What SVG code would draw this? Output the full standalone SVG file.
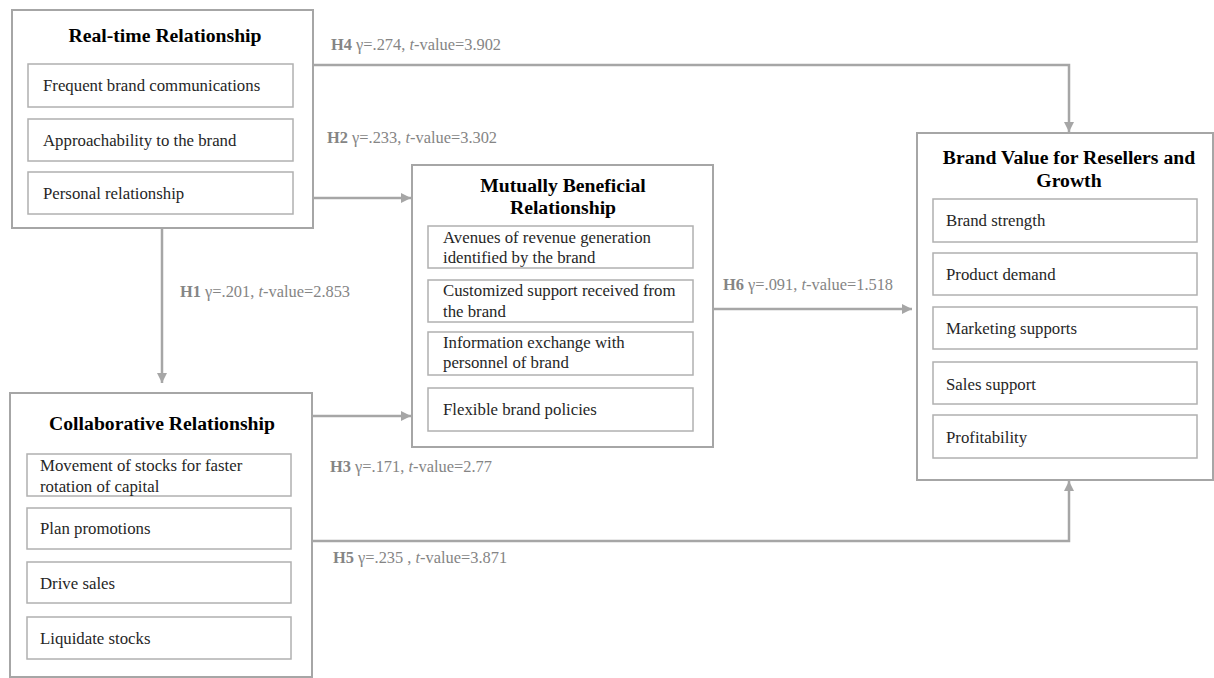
<svg xmlns="http://www.w3.org/2000/svg" width="1214" height="678" viewBox="0 0 1214 678">
<defs>
<marker id="ah" viewBox="0 0 10 10" refX="10" refY="5" markerWidth="10" markerHeight="10" markerUnits="userSpaceOnUse" orient="auto">
<path d="M0,0 L10,5 L0,10 Z" fill="#a6a6a6"/>
</marker>
</defs>
<style>
.outer{fill:#fff;stroke:#a6a6a6;stroke-width:2}
.inner{fill:#fff;stroke:#b0b0b0;stroke-width:1.5}
.title{font-family:"Liberation Serif","Times New Roman",serif;font-weight:bold;font-size:19.7px;fill:#000;text-anchor:middle}
.item{font-family:"Liberation Serif","Times New Roman",serif;font-size:16.8px;fill:#262626}
.lbl{font-family:"Liberation Serif","Times New Roman",serif;font-size:16.4px;fill:#858585}
.lbl .b{font-weight:bold}
.lbl .i{font-style:italic}
.conn{fill:none;stroke:#a6a6a6;stroke-width:2.5;marker-end:url(#ah)}
</style>
<rect width="1214" height="678" fill="#fff"/>

<g id="connectors">
<path class="conn" d="M313,65 H1069 V132"/>
<path class="conn" d="M313,198 H411"/>
<path class="conn" d="M162,228 V383"/>
<path class="conn" d="M312,416 H411"/>
<path class="conn" d="M713,309 H912"/>
<path class="conn" d="M312,541 H1069 V481"/>
</g>

<g id="labels">
<text class="lbl" x="331" y="50"><tspan class="b">H4</tspan> γ=.274, <tspan class="i">t</tspan>-value=3.902</text>
<text class="lbl" x="327" y="143"><tspan class="b">H2</tspan> γ=.233, <tspan class="i">t</tspan>-value=3.302</text>
<text class="lbl" x="180" y="297"><tspan class="b">H1</tspan> γ=.201, <tspan class="i">t</tspan>-value=2.853</text>
<text class="lbl" x="723" y="290"><tspan class="b">H6</tspan> γ=.091, <tspan class="i">t</tspan>-value=1.518</text>
<text class="lbl" x="330" y="472"><tspan class="b">H3</tspan> γ=.171, <tspan class="i">t</tspan>-value=2.77</text>
<text class="lbl" x="333" y="563"><tspan class="b">H5</tspan> γ=.235 , <tspan class="i">t</tspan>-value=3.871</text>
</g>

<g id="realtime">
<rect class="outer" x="12" y="10" width="301" height="218"/>
<text class="title" x="165" y="42">Real-time Relationship</text>
<rect class="inner" x="28" y="64" width="265" height="43"/>
<text class="item" x="43" y="91">Frequent brand communications</text>
<rect class="inner" x="28" y="119" width="265" height="42"/>
<text class="item" x="43" y="146">Approachability  to the brand</text>
<rect class="inner" x="28" y="172" width="265" height="42"/>
<text class="item" x="43" y="199">Personal relationship</text>
</g>

<g id="mutual">
<rect class="outer" x="412" y="165" width="301" height="282"/>
<text class="title" x="563" y="192">Mutually Beneficial</text>
<text class="title" x="563" y="214">Relationship</text>
<rect class="inner" x="428" y="226" width="265" height="42"/>
<text class="item" x="443" y="243">Avenues of revenue  generation</text>
<text class="item" x="443" y="263">identified  by the brand</text>
<rect class="inner" x="428" y="280" width="265" height="42"/>
<text class="item" x="443" y="296">Customized support received  from</text>
<text class="item" x="443" y="317">the brand</text>
<rect class="inner" x="428" y="332" width="265" height="43"/>
<text class="item" x="443" y="348">Information  exchange with</text>
<text class="item" x="443" y="368">personnel of brand</text>
<rect class="inner" x="428" y="388" width="265" height="43"/>
<text class="item" x="443" y="415">Flexible  brand policies</text>
</g>

<g id="brandvalue">
<rect class="outer" x="917" y="133" width="296" height="347"/>
<text class="title" x="1069" y="164">Brand Value for Resellers and</text>
<text class="title" x="1069" y="187">Growth</text>
<rect class="inner" x="933" y="199" width="264" height="43"/>
<text class="item" x="946" y="226">Brand  strength</text>
<rect class="inner" x="933" y="253" width="264" height="42"/>
<text class="item" x="946" y="280">Product demand</text>
<rect class="inner" x="933" y="307" width="264" height="42"/>
<text class="item" x="946" y="334">Marketing  supports</text>
<rect class="inner" x="933" y="362" width="264" height="42"/>
<text class="item" x="946" y="390">Sales support</text>
<rect class="inner" x="933" y="415" width="264" height="43"/>
<text class="item" x="946" y="443">Profitability</text>
</g>

<g id="collab">
<rect class="outer" x="10" y="393" width="302" height="284"/>
<text class="title" x="162" y="430">Collaborative Relationship</text>
<rect class="inner" x="27" y="454" width="264" height="42"/>
<text class="item" x="40" y="471">Movement  of stocks for faster</text>
<text class="item" x="40" y="492">rotation of capital</text>
<rect class="inner" x="27" y="508" width="264" height="41"/>
<text class="item" x="40" y="534">Plan promotions</text>
<rect class="inner" x="27" y="562" width="264" height="41"/>
<text class="item" x="40" y="589">Drive  sales</text>
<rect class="inner" x="27" y="617" width="264" height="42"/>
<text class="item" x="40" y="644">Liquidate  stocks</text>
</g>
</svg>
